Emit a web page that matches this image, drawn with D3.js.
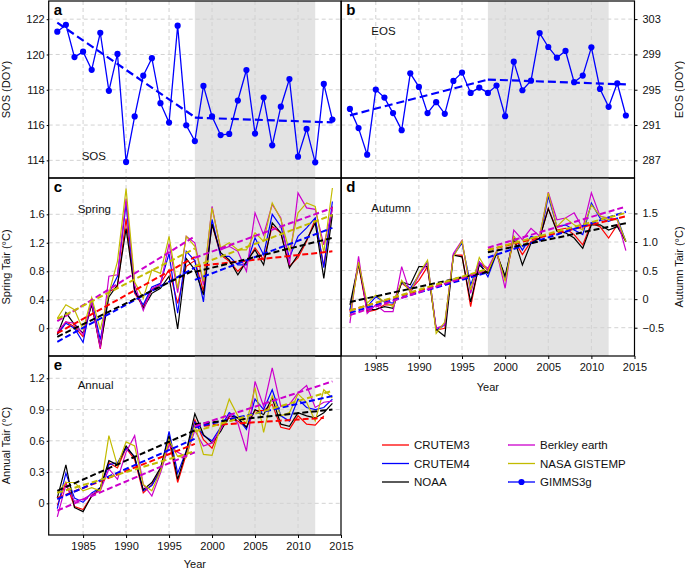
<!DOCTYPE html>
<html><head><meta charset="utf-8">
<script src="https://cdn.jsdelivr.net/npm/d3@7"></script>
<style>body{margin:0;background:#fff}svg{display:block;font-family:"Liberation Sans",Arial,Helvetica,sans-serif}</style>
</head><body><svg id="c" width="685" height="570"></svg>
<script>
// ---------------- DATA ----------------
const years = [1982,1983,1984,1985,1986,1987,1988,1989,1990,1991,1992,1993,1994,1995,1996,1997,1998,1999,2000,2001,2002,2003,2004,2005,2006,2007,2008,2009,2010,2011,2012,2013,2014];
const xTicks = [1985,1990,1995,2000,2005,2010,2015];
const hiatus = [1998, 2012];
const seg1Years = [1982, 1998];
const seg2Years = [1998, 2014];

const sos = [121.29,121.68,119.85,120.16,119.13,121.23,117.94,120.03,113.91,116.49,118.80,119.79,117.24,116.14,121.63,115.99,115.09,118.22,116.49,115.43,115.50,117.39,119.12,115.52,117.56,114.85,117.04,118.61,114.21,115.78,113.89,118.33,116.31];
const eos = [292.83,290.65,287.64,295.02,294.11,292.35,290.42,296.86,295.32,292.35,293.59,292.27,296.00,296.94,294.64,295.24,294.64,295.47,292.00,298.18,294.94,296.03,301.42,299.84,298.63,299.39,295.85,296.60,299.80,295.09,293.06,295.73,292.08];
const sosTrend = [[121.8,116.45],[116.42,116.15]];
const eosTrend = [[292.1,296.15],[296.15,295.6]];
const sosTicks = [114,116,118,120,122];
const eosTicks = [287,291,295,299,303];

const datasets = ["CRUTEM3","CRUTEM4","NOAA","Berkley earth","NASA GISTEMP"];
const colors = ["#ff0000","#0000ff","#000000","#cc00cc","#c2bb00"];

// Spring Tair
const springCRU3 = [-0.08,0.09,0.02,-0.12,0.35,-0.29,0.51,0.58,1.54,0.49,0.30,0.54,0.63,0.82,0.35,0.87,0.95,0.52,1.46,1.03,0.94,0.80,0.92,1.13,0.96,1.43,1.34,0.87,0.99,1.22,1.53,0.87,1.71];
const springCRU4 = [-0.09,0.07,0.00,-0.20,0.40,-0.16,0.49,0.73,1.75,0.51,0.33,0.58,0.63,1.05,0.21,1.08,0.95,0.37,1.53,1.01,1.01,0.89,0.89,1.27,1.03,1.60,1.43,0.99,1.29,1.41,1.55,0.85,1.78];
const springNOAA = [-0.09,0.22,0.05,-0.07,0.33,-0.26,0.44,0.61,1.40,0.54,0.28,0.49,0.56,0.73,-0.01,0.98,0.82,0.47,1.46,1.06,0.96,0.75,0.94,1.10,0.89,1.48,1.34,0.85,1.03,1.24,1.48,0.70,1.60];
const springBerk = [-0.05,0.09,0.07,-0.09,0.37,-0.28,0.73,0.75,1.82,0.61,0.25,0.56,0.61,1.19,0.50,1.29,1.20,0.61,1.71,1.10,1.15,1.08,0.80,1.62,1.31,1.74,1.55,0.89,1.90,1.69,1.67,1.17,1.67];
const springGISS = [0.14,0.33,0.26,-0.02,0.43,-0.02,0.49,0.94,1.96,0.65,0.42,0.82,0.77,1.29,0.56,1.29,1.15,0.66,1.69,1.13,1.20,1.10,1.10,1.34,1.22,1.76,1.53,1.08,1.62,1.76,1.71,1.06,1.97];
const springTrend1 = [[-0.07,1.00],[-0.19,0.85],[-0.12,0.82],[0.10,1.29],[0.13,1.12]];
const springTrend2 = [[0.87,1.08],[0.68,1.41],[0.79,1.27],[0.99,1.69],[0.87,1.59]];
const springTicks = [0,0.4,0.8,1.2,1.6];

// Autumn Tair
const autumnCRU3 = [-0.22,0.60,-0.22,-0.19,-0.10,-0.10,0.28,0.16,0.33,0.57,-0.54,-0.51,0.77,0.77,-0.13,0.63,0.51,0.82,0.37,1.04,0.78,1.01,1.07,1.59,1.21,1.24,1.13,0.95,1.33,1.27,1.07,1.30,1.01];
const autumnCRU4 = [-0.19,0.63,-0.13,0.04,-0.05,-0.07,0.29,0.19,0.42,0.65,-0.54,-0.45,0.77,0.98,0.25,0.65,0.39,0.80,0.37,1.10,0.86,1.10,1.04,1.80,1.27,1.30,1.21,1.13,1.68,1.42,1.36,1.42,1.01];
const autumnNOAA = [-0.10,0.63,-0.19,-0.18,-0.13,-0.16,0.30,0.25,0.57,0.57,-0.53,-0.65,0.77,0.74,-0.05,0.60,0.45,0.80,0.40,1.07,0.60,0.98,1.07,1.58,1.19,1.16,1.07,0.89,1.30,1.30,1.21,1.27,1.01];
const autumnBerk = [-0.42,0.75,-0.25,-0.10,-0.22,-0.22,0.57,0.10,0.42,0.63,-0.51,-0.45,0.80,1.03,0.10,0.65,0.54,0.84,0.19,1.21,1.04,1.24,1.10,1.87,1.39,1.42,1.51,1.24,1.86,1.45,1.42,1.39,0.85];
const autumnGISS = [-0.31,0.65,-0.07,0.07,-0.05,-0.13,0.33,0.13,0.45,0.68,-0.60,-0.40,0.74,1.02,0.16,0.73,0.48,0.83,0.31,1.10,0.92,1.07,1.10,1.86,1.27,1.42,1.30,1.21,1.65,1.46,1.39,1.39,1.01];
const autumnTrend1 = [[-0.20,0.50],[-0.24,0.47],[-0.05,0.48],[-0.28,0.52],[-0.20,0.53]];
const autumnTrend2 = [[0.86,1.45],[0.73,1.53],[0.82,1.33],[0.90,1.62],[0.86,1.51]];
const autumnTicks = [-0.5,0,0.5,1.0,1.5];
const autumnTickLabels = ["\u22120.5","0","0.5","1.0","1.5"];

// Annual Tair (CRUTEM3 ends in 2013)
const annualCRU3 = [-0.02,0.20,-0.03,-0.06,0.07,0.13,0.39,0.34,0.53,0.42,0.10,0.18,0.32,0.60,0.20,0.47,0.80,0.61,0.53,0.73,0.82,0.79,0.73,0.89,0.89,0.95,0.73,0.71,0.84,0.76,0.75,0.84];
const annualCRU4 = [-0.05,0.29,0.05,0.01,0.10,0.15,0.37,0.39,0.53,0.45,0.12,0.17,0.31,0.69,0.29,0.50,0.78,0.65,0.60,0.73,0.87,0.82,0.71,1.00,0.90,1.09,0.84,0.79,1.00,0.92,0.90,0.92,1.00];
const annualNOAA = [0.05,0.37,-0.04,-0.08,0.07,0.15,0.41,0.37,0.55,0.44,0.13,0.20,0.34,0.65,0.23,0.50,0.86,0.66,0.58,0.69,0.84,0.82,0.73,0.90,0.85,1.01,0.76,0.74,0.87,0.84,0.82,0.87,0.96];
const annualBerk = [-0.13,0.18,0.02,0.04,0.09,0.12,0.33,0.23,0.49,0.65,0.18,0.07,0.29,0.56,0.49,0.45,0.70,0.55,0.58,0.71,0.85,0.77,0.50,1.17,0.93,1.30,0.93,0.95,1.06,1.13,0.92,0.97,0.98];
const annualGISS = [0.10,0.20,0.20,0.12,0.15,0.12,0.65,0.36,0.59,0.55,0.18,0.12,0.31,0.61,0.45,0.44,0.75,0.47,0.46,0.74,1.00,0.84,0.77,1.11,0.68,1.03,0.84,0.87,1.05,0.97,0.79,1.09,1.01];
const annualTrend1 = [[0.05,0.57],[0.04,0.62],[0.12,0.70],[-0.07,0.49],[0.10,0.50]];
const annualTrend2 = [[0.74,0.82],[0.73,1.03],[0.76,0.90],[0.74,1.17],[0.69,1.08]];
const annualTrend2EndYear = [2013,2014,2014,2014,2014];
const annualTicks = [0,0.3,0.6,0.9,1.2];

// ---------------- DRAWING ----------------
const svg = d3.select("#c");
const LX0 = 48.7, LX1 = 341, RX0 = 341.3, RX1 = 634.5;
const ROW = [[1, 178],[178, 356],[356, 535]];
const gridCol = "#d2d2d2";

function panel(o) {
  const x = d3.scaleLinear().domain([1981, 2015]).range([o.x0, o.x1]);
  const y = d3.scaleLinear().domain(o.yDomain).range([o.y1, o.y0]);
  const g = svg.append("g");
  const cid = "clip" + o.label;
  svg.append("clipPath").attr("id", cid).append("rect")
    .attr("x", o.x0).attr("y", o.y0).attr("width", o.x1 - o.x0).attr("height", o.y1 - o.y0);
  g.append("rect").attr("x", x(hiatus[0])).attr("width", x(hiatus[1]) - x(hiatus[0]))
    .attr("y", o.y0).attr("height", o.y1 - o.y0).attr("fill", "#e3e3e3");
  g.selectAll(".gx").data(xTicks.filter(t => t < 2015)).enter().append("line")
    .attr("x1", d => x(d)).attr("x2", d => x(d)).attr("y1", o.y0).attr("y2", o.y1)
    .attr("stroke", gridCol).attr("stroke-dasharray", "4,3").attr("stroke-width", 1);
  g.selectAll(".gy").data(o.yTicks).enter().append("line")
    .attr("x1", o.x0).attr("x2", o.x1).attr("y1", d => y(d)).attr("y2", d => y(d))
    .attr("stroke", gridCol).attr("stroke-dasharray", "4,3").attr("stroke-width", 1);

  const plot = g.append("g").attr("clip-path", `url(#${cid})`);
  o.draw(plot, x, y);

  g.append("rect").attr("x", o.x0).attr("y", o.y0).attr("width", o.x1 - o.x0).attr("height", o.y1 - o.y0)
    .attr("fill", "none").attr("stroke", "#000").attr("stroke-width", 1.2);

  const fmt = o.yLabels ? (d, i) => o.yLabels[i] : d3.format("");
  if (o.side === "left") {
    const ax = g.append("g").attr("transform", `translate(${o.x0},0)`)
      .call(d3.axisLeft(y).tickValues(o.yTicks).tickFormat(fmt).tickSize(2).tickPadding(2));
    ax.select(".domain").remove();
    ax.selectAll("text").attr("font-size", 11).attr("fill", "#111").attr("font-family", "Liberation Sans, Arial, sans-serif");
    g.append("text").attr("transform", `translate(10,${(o.y0 + o.y1) / 2}) rotate(-90)`)
      .attr("text-anchor", "middle").attr("font-size", 11).attr("fill", "#111").text(o.title);
  } else {
    const ax = g.append("g").attr("transform", `translate(${o.x1},0)`)
      .call(d3.axisRight(y).tickValues(o.yTicks).tickFormat(fmt).tickSize(3).tickPadding(5));
    ax.select(".domain").remove();
    ax.selectAll("text").attr("font-size", 11).attr("fill", "#111").attr("font-family", "Liberation Sans, Arial, sans-serif");
    g.append("text").attr("transform", `translate(683,${(o.y0 + o.y1) / 2}) rotate(-90)`)
      .attr("text-anchor", "middle").attr("font-size", 11).attr("fill", "#111").text(o.title);
  }
  if (o.xAxis) {
    const ax = g.append("g").attr("transform", `translate(0,${o.y1})`)
      .call(d3.axisBottom(x).tickValues(xTicks).tickFormat(d3.format("d")).tickSize(3).tickPadding(4));
    ax.select(".domain").remove();
    ax.selectAll("text").attr("font-size", 11).attr("fill", "#111").attr("font-family", "Liberation Sans, Arial, sans-serif");
    g.append("text").attr("x", (o.x0 + o.x1) / 2).attr("y", Math.min(o.y1 + 35, 568)).attr("text-anchor", "middle")
      .attr("font-size", 11).attr("fill", "#111").text("Year");
  }
  g.append("text").attr("x", o.x0 + 5).attr("y", o.y0 + 14).attr("font-size", 15).attr("font-weight", "bold").text(o.label);
  g.append("text").attr("x", o.x0 + o.innerPos[0]).attr("y", o.y0 + o.innerPos[1]).attr("font-size", 11.5).attr("fill", "#111").text(o.inner);
}

const line = (x, y) => d3.line().x(d => x(d[0])).y(d => y(d[1]));

function drawPheno(vals, trend) {
  return (p, x, y) => {
    const L = line(x, y);
    p.append("path").datum(years.map((yr, i) => [yr, vals[i]])).attr("d", L)
      .attr("fill", "none").attr("stroke", "#0000ff").attr("stroke-width", 1.3);
    p.append("path").datum([[seg1Years[0], trend[0][0]], [seg1Years[1], trend[0][1]]]).attr("d", L)
      .attr("fill", "none").attr("stroke", "#0000ff").attr("stroke-width", 2.2).attr("stroke-dasharray", "8,4");
    p.append("path").datum([[seg2Years[0], trend[1][0]], [seg2Years[1], trend[1][1]]]).attr("d", L)
      .attr("fill", "none").attr("stroke", "#0000ff").attr("stroke-width", 2.2).attr("stroke-dasharray", "8,4");
    p.selectAll(".pt").data(years.map((yr, i) => [yr, vals[i]])).enter().append("circle")
      .attr("cx", d => x(d[0])).attr("cy", d => y(d[1])).attr("r", 3.1).attr("fill", "#0000ff");
  };
}

function drawTemp(series, t1, t2, t2end) {
  return (p, x, y) => {
    const L = line(x, y);
    series.forEach((vals, k) => {
      p.append("path").datum(vals.map((v, i) => [years[i], v])).attr("d", L)
        .attr("fill", "none").attr("stroke", colors[k]).attr("stroke-width", 1.2);
    });
    series.forEach((vals, k) => {
      p.append("path").datum([[seg1Years[0], t1[k][0]], [seg1Years[1], t1[k][1]]]).attr("d", L)
        .attr("fill", "none").attr("stroke", colors[k]).attr("stroke-width", 2).attr("stroke-dasharray", "6,3");
      const e = t2end ? t2end[k] : seg2Years[1];
      p.append("path").datum([[seg2Years[0], t2[k][0]], [e, t2[k][1]]]).attr("d", L)
        .attr("fill", "none").attr("stroke", colors[k]).attr("stroke-width", 2).attr("stroke-dasharray", "6,3");
    });
  };
}

panel({label: "a", x0: LX0, x1: LX1, y0: ROW[0][0], y1: ROW[0][1], yDomain: [113, 123.03], yTicks: sosTicks,
  side: "left", title: "SOS (DOY)", inner: "SOS", innerPos: [33, 159], draw: drawPheno(sos, sosTrend)});
panel({label: "b", x0: RX0, x1: RX1, y0: ROW[0][0], y1: ROW[0][1], yDomain: [285, 305.05], yTicks: eosTicks,
  side: "right", title: "EOS (DOY)", inner: "EOS", innerPos: [30, 34], draw: drawPheno(eos, eosTrend)});
panel({label: "c", x0: LX0, x1: LX1, y0: ROW[1][0], y1: ROW[1][1], yDomain: [-0.39, 2.11], yTicks: springTicks,
  side: "left", title: "Spring Tair (\u00B0C)", inner: "Spring", innerPos: [29, 35],
  draw: drawTemp([springCRU3, springCRU4, springNOAA, springBerk, springGISS], springTrend1, springTrend2)});
panel({label: "d", x0: RX0, x1: RX1, y0: ROW[1][0], y1: ROW[1][1], yDomain: [-0.995, 2.12], yTicks: autumnTicks, yLabels: autumnTickLabels,
  side: "right", title: "Autumn Tair (\u00B0C)", inner: "Autumn", innerPos: [30, 34], xAxis: true,
  draw: drawTemp([autumnCRU3, autumnCRU4, autumnNOAA, autumnBerk, autumnGISS], autumnTrend1, autumnTrend2)});
panel({label: "e", x0: LX0, x1: LX1, y0: ROW[2][0], y1: ROW[2][1], yDomain: [-0.304, 1.414], yTicks: annualTicks,
  side: "left", title: "Annual Tair (\u00B0C)", inner: "Annual", innerPos: [29, 33], xAxis: true,
  draw: drawTemp([annualCRU3, annualCRU4, annualNOAA, annualBerk, annualGISS], annualTrend1, annualTrend2, annualTrend2EndYear)});

// legend
const legItems = datasets.map((d, i) => ({name: d, color: colors[i], marker: false}))
  .concat([{name: "GIMMS3g", color: "#0000ff", marker: true}]);
const legPos = [[382, 445], [382, 463.5], [382, 482], [508, 445], [508, 463.5], [508, 482]];
const lg = svg.append("g");
legItems.forEach((it, j) => {
  const [lx, ly] = legPos[j];
  lg.append("line").attr("x1", lx).attr("x2", lx + 27).attr("y1", ly).attr("y2", ly)
    .attr("stroke", it.color).attr("stroke-width", 1.3);
  if (it.marker) lg.append("circle").attr("cx", lx + 13.5).attr("cy", ly).attr("r", 3.1).attr("fill", it.color);
  lg.append("text").attr("x", lx + 32).attr("y", ly + 4).attr("font-size", 11.5).attr("fill", "#111").text(it.name);
});
</script></body></html>
